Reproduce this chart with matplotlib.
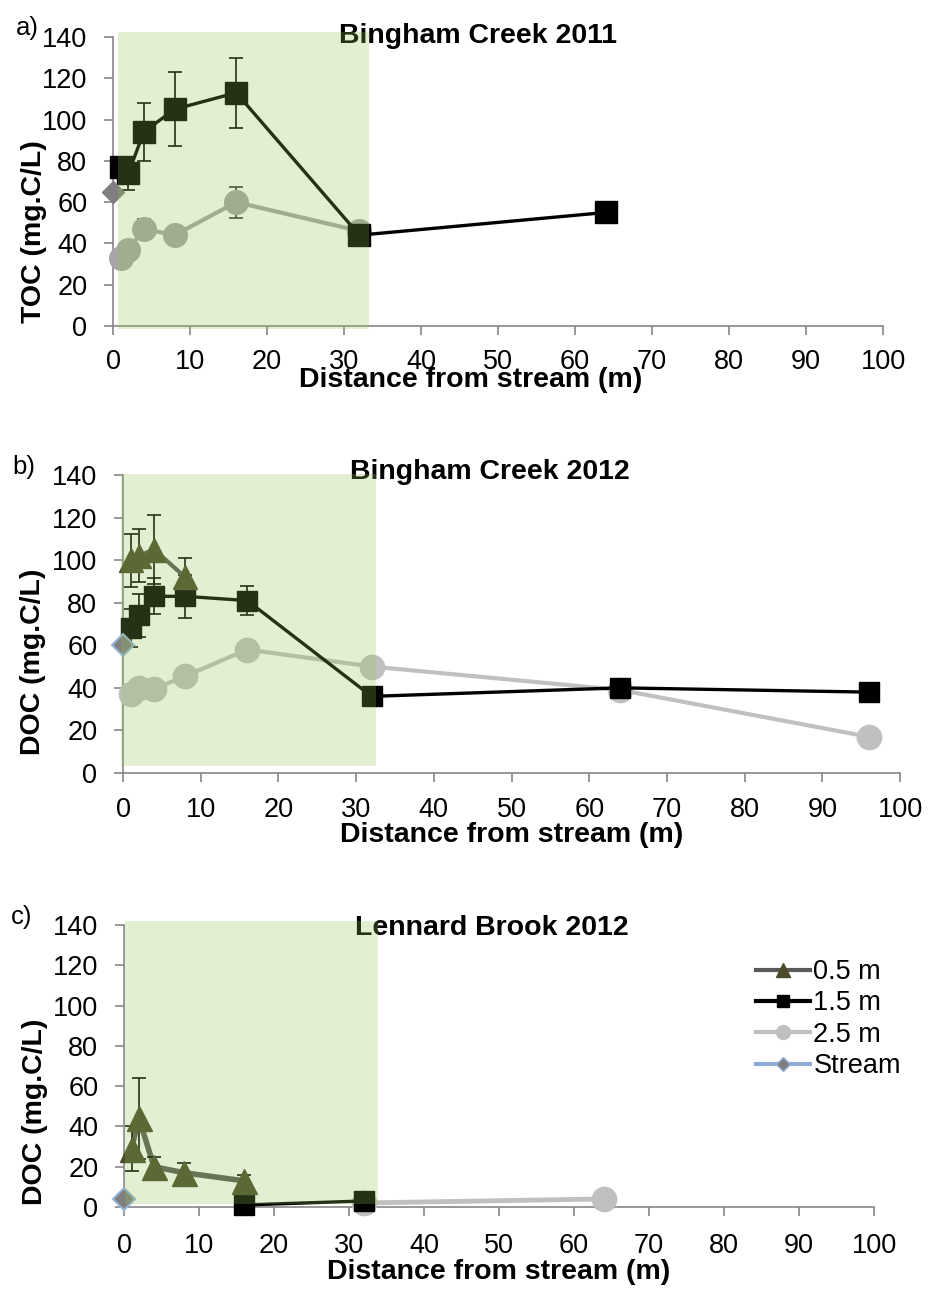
import matplotlib
matplotlib.use("Agg")
import matplotlib.pyplot as plt
from matplotlib.patches import Rectangle
from matplotlib.lines import Line2D

plt.rcParams['font.family'] = ['Liberation Sans', 'DejaVu Sans']

# ---- data ----
# a) Bingham Creek 2011 (TOC)
a_x15 = [1, 2, 4, 8, 16, 32, 64]
a_y15 = [77, 74, 94, 105, 113, 44, 55]
a_e15 = [0, 8, 14, 18, 17, 0, 0]
a_x25 = [1, 2, 4, 8, 16, 32]
a_y25 = [33, 37, 47, 44, 60, 46]
a_e25 = [0, 0, 5, 4, 7.5, 0]
a_stream = 65

# b) Bingham Creek 2012 (DOC)
b_x05 = [1, 2, 4, 8]
b_y05 = [100, 102, 105, 92]
b_e05 = [12.5, 12.5, 16, 9]
b_x15 = [1, 2, 4, 8, 16, 32, 64, 96]
b_y15 = [68, 74, 83, 83, 81, 36, 40, 38]
b_e15 = [9, 10, 8.5, 10, 7, 0, 0, 0]
b_x25 = [1, 2, 4, 8, 16, 32, 64, 96]
b_y25 = [37, 40, 39.5, 45.5, 58, 50, 39, 17]
b_stream = 60

# c) Lennard Brook 2012 (DOC)
c_x05 = [1, 2, 4, 8, 16]
c_y05 = [29, 44, 20, 17, 13]
c_e05 = [11, 20, 5, 5, 3]
c_x15 = [16, 32]
c_y15 = [1, 3]
c_x25 = [32, 64]
c_y25 = [2, 4]
c_stream = 4

xticks = list(range(0, 101, 10))
yticks = list(range(0, 141, 20))

C05_line = '#5a5a5a'
C05_mark = '#4b4b2a'
C15 = '#000000'
STREAM_EDGE = '#95b3d7'
SHADE = (144 / 255, 194 / 255, 84 / 255)

TICK_FS = 19.5
LAB_FS = 20.5
TITLE_FS = 20.5

fig = plt.figure(figsize=(9.3, 12.92), dpi=100)

def setup(ax, ylabel, title, xlab_pos, ylab_pos, title_pos, xpad):
    ax.set_xlim(0, 100)
    ax.set_ylim(0, 140)
    ax.set_xticks(xticks)
    ax.set_yticks(yticks)
    for s in ['top', 'right']:
        ax.spines[s].set_visible(False)
    for s in ['left', 'bottom']:
        ax.spines[s].set_color('#868686')
        ax.spines[s].set_linewidth(1.2)
    ax.tick_params(axis='both', direction='out', length=6.5, width=1.2,
                   color='#868686', labelsize=TICK_FS)
    ax.tick_params(axis='y', pad=12)
    ax.tick_params(axis='x', pad=xpad)
    ax.set_xlabel('Distance from stream (m)', fontsize=LAB_FS, fontweight='bold')
    ax.xaxis.set_label_coords(*xlab_pos)
    ax.xaxis.label.set_va('top')
    ax.set_ylabel(ylabel, fontsize=LAB_FS, fontweight='bold')
    ax.yaxis.set_label_coords(*ylab_pos)
    ax.yaxis.label.set_va('center')
    ax.text(title_pos[0], title_pos[1], title, transform=ax.transAxes,
            fontsize=TITLE_FS, fontweight='bold', ha='center', va='center', zorder=5)

def shade(ax, x0, x1, y0, y1):
    ax.add_patch(Rectangle((x0, y0), x1 - x0, y1 - y0, facecolor=SHADE,
                           alpha=0.26, edgecolor='none', zorder=20, clip_on=False))

def series(ax, x, y, err, color, mcolor, marker, ms, lw, ecolor='black', z=3):
    ax.plot(x, y, color=color, lw=lw, zorder=z, clip_on=False)
    if err is not None:
        ax.errorbar(x, y, yerr=err, fmt='none', ecolor=ecolor, elinewidth=1.2,
                    capsize=5, capthick=1.2, zorder=z + 0.1, clip_on=False)
    ax.plot(x, y, linestyle='none', marker=marker, ms=ms, mfc=mcolor,
            mec=mcolor, zorder=z + 0.2, clip_on=False)

# ---- panel a ----
axa = fig.add_axes([113 / 930, 1 - 326 / 1292, 770 / 930, 289 / 1292])
setup(axa, 'TOC (mg.C/L)', 'Bingham Creek 2011',
      (0.465, -0.143), (-0.103, 0.325), (0.474, 1.003), 10)
series(axa, a_x25, a_y25, a_e25, '#a6a6a6', '#a6a6a6', 'o', 17, 3.0, ecolor='#3a3a3a', z=3)
series(axa, a_x15, a_y15, a_e15, C15, C15, 's', 15.5, 2.4, z=4)
axa.plot([0], [a_stream], linestyle='none', marker='D', ms=11, mfc='#7f7f7f',
         mec='#7f7f7f', zorder=6, clip_on=False)
shade(axa, 0.65, 33.2, -1.5, 142.4)

# ---- panel b ----
axb = fig.add_axes([123 / 930, 1 - 773 / 1292, 777 / 930, 298 / 1292])
setup(axb, 'DOC (mg.C/L)', 'Bingham Creek 2012',
      (0.50, -0.166), (-0.116, 0.372), (0.472, 1.01), 11)
series(axb, b_x25, b_y25, None, '#c0c0c0', '#c0c0c0', 'o', 17.5, 3.0, z=3)
series(axb, b_x15, b_y15, b_e15, C15, C15, 's', 15, 2.4, z=4)
series(axb, b_x05, b_y05, b_e05, C05_line, C05_mark, '^', 17, 3.0, z=5)
axb.plot([0], [b_stream], linestyle='none', marker='D', ms=11, mfc='#7f7f7f',
         mec=STREAM_EDGE, mew=1.5, zorder=7, clip_on=False)
shade(axb, -0.2, 32.6, 3.3, 140.5)

# ---- panel c ----
axc = fig.add_axes([124 / 930, 1 - 1207 / 1292, 750 / 930, 282 / 1292])
setup(axc, 'DOC (mg.C/L)', 'Lennard Brook 2012',
      (0.50, -0.186), (-0.119, 0.337), (0.49, 0.99), 12)
series(axc, c_x25, c_y25, None, '#c0c0c0', '#c0c0c0', 'o', 17.5, 3.5, z=3)
series(axc, c_x15, c_y15, None, C15, C15, 's', 15, 2.4, z=4)
series(axc, c_x05, c_y05, c_e05, C05_line, C05_mark, '^', 18, 4.0, z=5)
axc.plot([0], [c_stream], linestyle='none', marker='D', ms=11, mfc='#7f7f7f',
         mec=STREAM_EDGE, mew=1.5, zorder=7, clip_on=False)
shade(axc, 0.1, 33.8, 1.7, 141.8)

handles = [
    Line2D([], [], color=C05_line, lw=3, marker='^', ms=10, mfc=C05_mark, mec=C05_mark),
    Line2D([], [], color=C15, lw=3, marker='s', ms=9, mfc=C15, mec=C15),
    Line2D([], [], color='#c0c0c0', lw=3, marker='o', ms=10, mfc='#c0c0c0', mec='#c0c0c0'),
    Line2D([], [], color='#8eaadb', lw=3, marker='D', ms=7, mfc='#7f7f7f', mec=STREAM_EDGE),
]
fig.legend(handles, ['0.5 m', '1.5 m', '2.5 m', 'Stream'], loc='upper left',
           bbox_to_anchor=(756 / 930, 1 - 959 / 1292), frameon=False,
           fontsize=TICK_FS, handlelength=2.0, handletextpad=0.12,
           labelspacing=0.2, borderpad=0, borderaxespad=0)

fig.text(27 / 930, 1 - 28 / 1292, 'a)', fontsize=18.5, ha='center', va='center')
fig.text(24 / 930, 1 - 467 / 1292, 'b)', fontsize=18.5, ha='center', va='center')
fig.text(22 / 930, 1 - 917 / 1292, 'c)', fontsize=18.5, ha='center', va='center')

fig.savefig('out.png', dpi=100)
